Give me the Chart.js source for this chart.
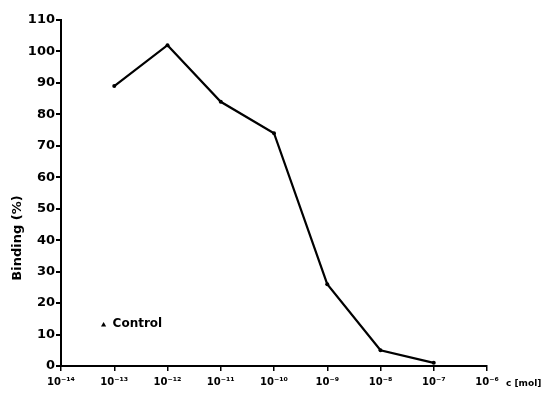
<!DOCTYPE html>
<html>
<head>
<meta charset="utf-8">
<script src="https://cdn.jsdelivr.net/npm/chart.js@4/dist/chart.umd.min.js"></script>
<style>
  html, body { margin: 0; padding: 0; background: #fff; }
  #wrap { width: 547px; height: 407px; }
</style>
</head>
<body>
<div id="wrap"><canvas id="c" width="547" height="407"></canvas></div>
<script>
// Concentration as log10 exponent, binding in percent
const exponents = [-13, -12, -11, -10, -9, -8, -7];
const binding = [89, 102, 84, 74, 26, 5, 1];
const controlExponent = [-13.2];
const controlBinding = [13];
const xTickExponents = [-14, -13, -12, -11, -10, -9, -8, -7, -6];
const yTicks = [0, 10, 20, 30, 40, 50, 60, 70, 80, 90, 100, 110];

const sup = { '-': '⁻', '0': '⁰', '1': '¹', '2': '²', '3': '³', '4': '⁴', '5': '⁵', '6': '⁶', '7': '⁷', '8': '⁸', '9': '⁹' };
const toSup = s => String(s).split('').map(ch => sup[ch] || ch).join('');

const FONT = '"DejaVu Sans", sans-serif';

const extraText = {
  id: 'extraText',
  afterDraw(chart) {
    const ctx = chart.ctx;
    const xs = chart.scales.x, ys = chart.scales.y;
    ctx.save();
    ctx.fillStyle = '#000';
    // y-axis title
    ctx.translate(18, 238);
    ctx.rotate(-Math.PI / 2);
    ctx.font = 'bold 13px ' + FONT;
    ctx.textAlign = 'center';
    ctx.textBaseline = 'middle';
    ctx.fillText('Binding (%)', 0, 0);
    ctx.restore();

    ctx.save();
    ctx.fillStyle = '#000';
    // x-axis unit
    ctx.font = 'bold 9px ' + FONT;
    ctx.textAlign = 'left';
    ctx.textBaseline = 'middle';
    ctx.fillText('c [mol]', 506, 384);
    // control label
    const px = xs.getPixelForValue(controlExponent[0]);
    const py = ys.getPixelForValue(controlBinding[0]);
    ctx.font = 'bold 12px ' + FONT;
    ctx.fillText('Control', px + 9, py - 1);
    ctx.restore();
  }
};

new Chart(document.getElementById('c'), {
  type: 'line',
  data: {
    datasets: [
      {
        data: exponents.map((e, i) => ({ x: e, y: binding[i] })),
        borderColor: '#000',
        backgroundColor: '#000',
        borderWidth: 2.2,
        pointRadius: 2,
        pointBorderWidth: 0,
        tension: 0
      },
      {
        data: controlExponent.map((e, i) => ({ x: e, y: controlBinding[i] })),
        showLine: false,
        pointStyle: 'triangle',
        pointRadius: 3,
        borderColor: '#000',
        backgroundColor: '#000',
        pointBorderWidth: 0
      }
    ]
  },
  options: {
    responsive: false,
    animation: false,
    layout: { padding: { top: 20, right: 60, left: 0, bottom: 0 } },
    plugins: { legend: { display: false }, tooltip: { enabled: false } },
    scales: {
      x: {
        type: 'linear',
        min: -14,
        max: -6,
        afterFit(s) { s.height = 41; },
        afterBuildTicks(s) { s.ticks = xTickExponents.map(v => ({ value: v })); },
        border: { display: true, color: '#000', width: 2 },
        grid: { display: true, drawOnChartArea: false, drawTicks: true, tickLength: 5, color: '#000', lineWidth: 1.5 },
        ticks: {
          color: '#000',
          font: { family: FONT, size: 10, weight: 'bold' },
          padding: 5,
          maxRotation: 0,
          autoSkip: false,
          callback: v => '10' + toSup(v)
        }
      },
      y: {
        min: 0,
        max: 110,
        afterFit(s) { s.width = 61; },
        afterBuildTicks(s) { s.ticks = yTicks.map(v => ({ value: v })); },
        border: { display: true, color: '#000', width: 2 },
        grid: { display: true, drawOnChartArea: false, drawTicks: true, tickLength: 5, color: '#000', lineWidth: 2 },
        ticks: {
          color: '#000',
          font: { family: FONT, size: 13, weight: 'bold' },
          padding: 1,
          autoSkip: false
        }
      }
    }
  },
  plugins: [extraText]
});
</script>
</body>
</html>
